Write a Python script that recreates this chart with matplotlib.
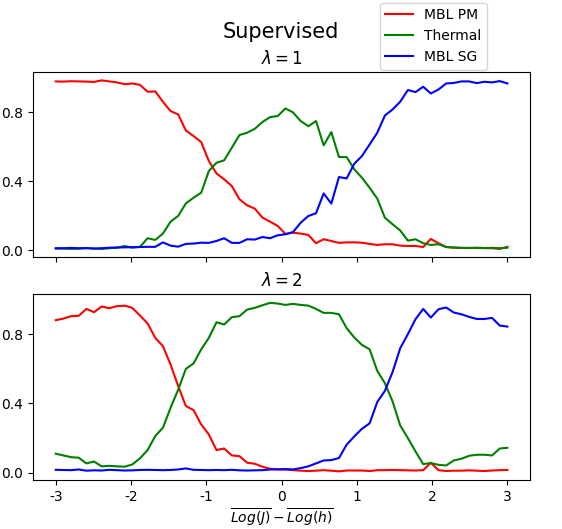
import numpy as np
import matplotlib
matplotlib.use("Agg")
import matplotlib.pyplot as plt

# eje x: 60 puntos entre -3 y 3
x = np.linspace(-3, 3, 60)

# lambda = 1
pm_l1 = [0.98, 0.979, 0.981, 0.98, 0.979, 0.977, 0.986, 0.98, 0.974, 0.964,
         0.968, 0.96, 0.92, 0.922, 0.862, 0.808, 0.788, 0.695, 0.663, 0.628,
         0.518, 0.446, 0.412, 0.373, 0.296, 0.261, 0.242, 0.19, 0.166, 0.141,
         0.095, 0.102, 0.097, 0.089, 0.041, 0.064, 0.054, 0.043, 0.046, 0.046,
         0.044, 0.037, 0.031, 0.035, 0.035, 0.027, 0.025, 0.025, 0.019, 0.066,
         0.041, 0.019, 0.015, 0.014, 0.014, 0.013, 0.013, 0.012, 0.008, 0.02]
th_l1 = [0.01, 0.01, 0.008, 0.009, 0.012, 0.01, 0.008, 0.012, 0.015, 0.025,
         0.015, 0.02, 0.07, 0.06, 0.097, 0.166, 0.2, 0.272, 0.305, 0.334,
         0.46, 0.508, 0.522, 0.595, 0.669, 0.682, 0.705, 0.744, 0.773, 0.779,
         0.823, 0.8, 0.75, 0.72, 0.75, 0.609, 0.686, 0.541, 0.541, 0.47,
         0.421, 0.363, 0.3, 0.189, 0.151, 0.115, 0.056, 0.064, 0.041, 0.031,
         0.035, 0.019, 0.016, 0.014, 0.013, 0.015, 0.013, 0.014, 0.012, 0.015]
sg_l1 = [0.012, 0.012, 0.014, 0.012, 0.013, 0.01, 0.012, 0.015, 0.016, 0.017,
         0.018, 0.019, 0.02, 0.02, 0.046, 0.027, 0.021, 0.037, 0.039, 0.044,
         0.043, 0.054, 0.07, 0.043, 0.043, 0.064, 0.062, 0.077, 0.07, 0.087,
         0.093, 0.106, 0.16, 0.199, 0.215, 0.33, 0.271, 0.425, 0.417, 0.502,
         0.547, 0.614, 0.682, 0.782, 0.817, 0.862, 0.93, 0.918, 0.949, 0.91,
         0.933, 0.968, 0.971, 0.98, 0.98, 0.97, 0.978, 0.974, 0.982, 0.968]

# lambda = 2
pm_l2 = [0.881, 0.89, 0.904, 0.906, 0.946, 0.927, 0.96, 0.95, 0.962, 0.965,
         0.952, 0.908, 0.862, 0.779, 0.731, 0.625, 0.5, 0.385, 0.362, 0.279,
         0.221, 0.131, 0.14, 0.1, 0.096, 0.058, 0.052, 0.035, 0.023, 0.019,
         0.019, 0.015, 0.012, 0.01, 0.012, 0.015, 0.012, 0.008, 0.013, 0.013,
         0.013, 0.01, 0.015, 0.015, 0.016, 0.015, 0.014, 0.013, 0.015, 0.058,
         0.015, 0.01, 0.012, 0.012, 0.014, 0.012, 0.01, 0.013, 0.015, 0.016]
th_l2 = [0.11, 0.1, 0.09, 0.087, 0.054, 0.065, 0.037, 0.04, 0.037, 0.035,
         0.048, 0.083, 0.131, 0.212, 0.26, 0.375, 0.48, 0.6, 0.631, 0.712,
         0.779, 0.869, 0.856, 0.898, 0.904, 0.942, 0.952, 0.967, 0.981, 0.977,
         0.969, 0.975, 0.969, 0.965, 0.946, 0.923, 0.923, 0.915, 0.835, 0.781,
         0.738, 0.713, 0.588, 0.517, 0.412, 0.273, 0.2, 0.123, 0.05, 0.056,
         0.046, 0.042, 0.071, 0.081, 0.098, 0.104, 0.104, 0.1, 0.14, 0.144]
sg_l2 = [0.017, 0.016, 0.015, 0.019, 0.012, 0.014, 0.013, 0.017, 0.015, 0.013,
         0.014, 0.016, 0.017, 0.016, 0.015, 0.016, 0.019, 0.025, 0.017, 0.016,
         0.015, 0.016, 0.015, 0.017, 0.014, 0.013, 0.014, 0.015, 0.019, 0.02,
         0.021, 0.019, 0.027, 0.037, 0.054, 0.071, 0.073, 0.085, 0.162, 0.21,
         0.254, 0.285, 0.408, 0.473, 0.581, 0.719, 0.8, 0.887, 0.946, 0.896,
         0.944, 0.954, 0.925, 0.915, 0.9, 0.888, 0.888, 0.894, 0.85, 0.844]

labels = ['MBL PM', 'Thermal', 'MBL SG']
colors = ['red', 'green', 'blue']
xtick_vals = [-3, -2, -1, 0, 1, 2, 3]
xtick_labels = ['-3', '-2', '-1', '0', '1', '2', '3']
ytick_vals = [0.0, 0.4, 0.8]

fig, axes = plt.subplots(2, 1, figsize=(5.62, 5.29), dpi=100, sharex=True)
fig.subplots_adjust(left=0.059, right=0.943, top=0.864, bottom=0.093, hspace=0.2)

panels = [(r'$\lambda = 1$', [pm_l1, th_l1, sg_l1]),
          (r'$\lambda = 2$', [pm_l2, th_l2, sg_l2])]

for ax, (title, series) in zip(axes, panels):
    for y, c, lab in zip(series, colors, labels):
        ax.plot(x, y, color=c, label=lab)
    ax.set_title(title)
    ax.set_yticks(ytick_vals)

axes[1].set_xticks(xtick_vals)
axes[1].set_xticklabels(xtick_labels)
axes[1].set_xlabel(r'$\overline{Log(J)} - \overline{Log(h)}$', labelpad=2)

fig.suptitle('Supervised', fontsize=15, y=0.958)
handles, labs = axes[0].get_legend_handles_labels()
fig.legend(handles, labs, loc='upper right', bbox_to_anchor=(0.879, 1.008))

fig.savefig('out.png', dpi=100)
